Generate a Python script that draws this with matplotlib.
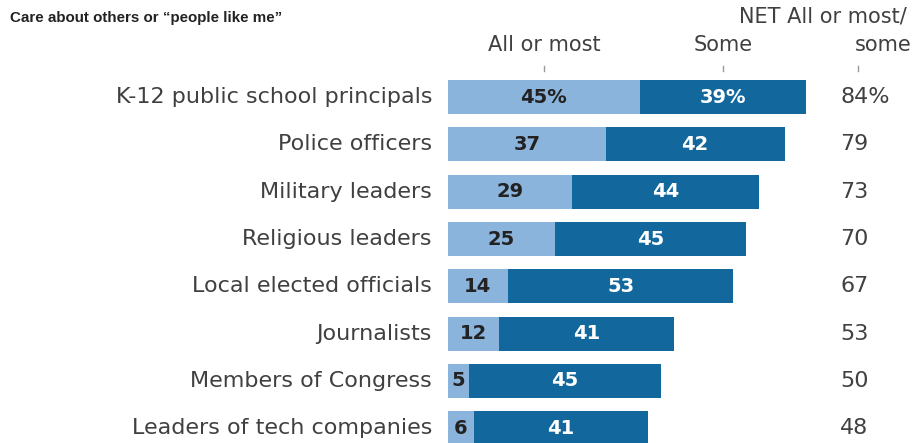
import matplotlib
matplotlib.use('Agg')
import matplotlib.pyplot as plt

# Data
categories = ['K-12 public school principals', 'Police officers', 'Military leaders',
              'Religious leaders', 'Local elected officials', 'Journalists',
              'Members of Congress', 'Leaders of tech companies']
all_or_most = [45, 37, 29, 25, 14, 12, 5, 6]
some = [39, 42, 44, 45, 53, 41, 45, 41]
net = [84, 79, 73, 70, 67, 53, 50, 48]

light = '#8ab4dc'
dark = '#12679c'
label_col = '#404040'

plt.rcParams['font.family'] = ['DejaVu Sans']

W, H = 914, 443
fig = plt.figure(figsize=(W / 100, H / 100), dpi=100)
# axes starts at the bars' left edge and spans the full height
ax = fig.add_axes([448 / W, 0, 1 - 448 / W, 1])
px_per_unit = 4.26
ax.set_xlim(0, (W - 448) / px_per_unit)
ax.set_ylim(7.31, -2.05)
ax.axis('off')

ypos = list(range(len(categories)))
ax.barh(ypos, all_or_most, height=0.72, color=light, edgecolor='none')
ax.barh(ypos, some, left=all_or_most, height=0.72, color=dark, edgecolor='none')

net_x = (840 - 448) / px_per_unit
for i, cat in enumerate(categories):
    a, s, n = all_or_most[i], some[i], net[i]
    suffix = '%' if i == 0 else ''
    ax.text(-16 / px_per_unit, i, cat, ha='right', va='center', fontsize=16, color=label_col)
    ax.text(a / 2, i, f'{a}{suffix}', ha='center', va='center', fontsize=14,
            fontweight='bold', color='#222222')
    ax.text(a + s / 2, i, f'{s}{suffix}', ha='center', va='center', fontsize=14,
            fontweight='bold', color='white')
    ax.text(net_x, i, f'{n}{suffix}', ha='left', va='center', fontsize=16, color=label_col)

# column headers and small tick marks
hdr_y = -1.10
ax.text(all_or_most[0] / 2, hdr_y, 'All or most', ha='center', va='center', fontsize=15, color=label_col)
ax.text(all_or_most[0] + some[0] / 2, hdr_y, 'Some', ha='center', va='center', fontsize=15, color=label_col)
tick_x = [all_or_most[0] / 2, all_or_most[0] + some[0] / 2, (858 - 448) / px_per_unit]
for tx in tick_x:
    ax.plot([tx, tx], [-0.66, -0.54], color='#999999', lw=1)
ax.text((855 - 448) / px_per_unit, hdr_y, 'some', ha='left', va='center', fontsize=15,
        color=label_col, clip_on=False)
fig.text(739 / W, 1 - 16 / H, 'NET All or most/', ha='left', va='center', fontsize=15, color=label_col)

fig.text(10 / W, 1 - 18 / H, 'Care about others or \u201cpeople like me\u201d', ha='left', va='center',
         fontsize=10.9, fontweight='bold', color='#222222',
         family=['Liberation Sans', 'DejaVu Sans'])

fig.savefig('out.png', dpi=100, facecolor='white')
